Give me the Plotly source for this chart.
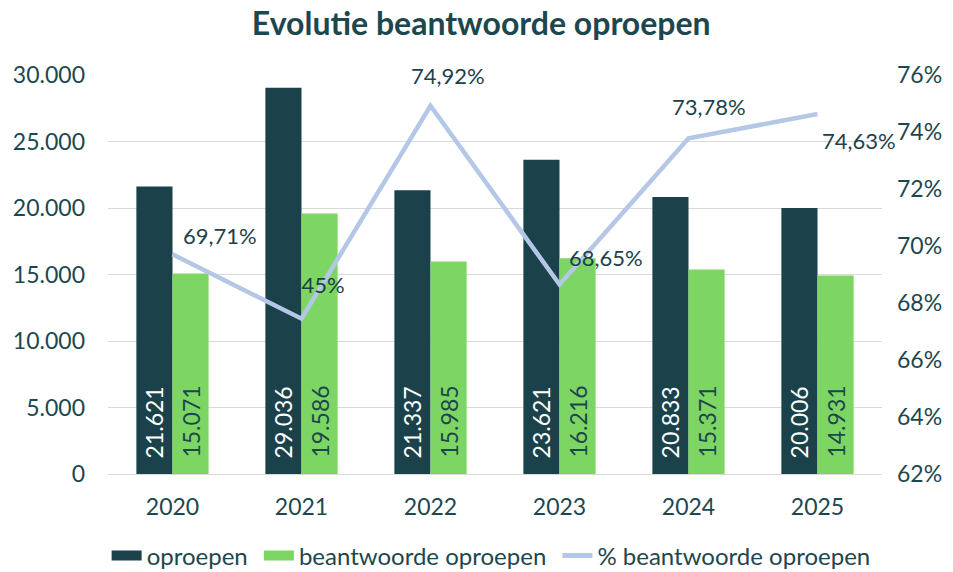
import plotly.graph_objects as go

# Data
years = ["2020", "2021", "2022", "2023", "2024", "2025"]
oproepen = [21621, 29036, 21337, 23621, 20833, 20006]
beantwoord = [15071, 19586, 15985, 16216, 15371, 14931]
pct_beantwoord = [69.71, 67.45, 74.92, 68.65, 73.78, 74.63]
pct_ticks = [62, 64, 66, 68, 70, 72, 74, 76]

# Label offsets (pixels) for the percentage labels
pct_xshift = [47, 6, 17, 46, 20, 41]
pct_yshift = [19, 34, 30, 27, 32, -26]

DARK = "#1b424a"
GREEN = "#7dd663"
LINE = "#b4c7e7"
TEXT = "#1d474e"
FONT = "Lato"
BARGAP = 0.44
BAR_W = (1 - BARGAP) / 2  # width of one bar in category units


def nl_int(v):
    return f"{v:,}".replace(",", ".")


def nl_pct(v):
    return f"{v:.2f}".replace(".", ",") + "%"


fig = go.Figure()

fig.add_trace(go.Bar(
    x=years, y=oproepen, name="oproepen", showlegend=False,
    marker=dict(color=DARK, line=dict(width=0)),
))
fig.add_trace(go.Bar(
    x=years, y=beantwoord, name="beantwoorde oproepen", showlegend=False,
    marker=dict(color=GREEN, line=dict(width=0)),
))
fig.add_trace(go.Scatter(
    x=years, y=pct_beantwoord, name="% beantwoorde oproepen",
    mode="lines", line=dict(color=LINE, width=4.5),
    yaxis="y2", showlegend=False,
))

# legend entries: thick line swatches for the two bar series and the line
for name, color, width in [("oproepen\u00a0", DARK, 13),
                           ("beantwoorde oproepen\u00a0", GREEN, 13),
                           ("% beantwoorde oproepen", LINE, 5)]:
    fig.add_trace(go.Scatter(
        x=[None], y=[None], name=name, mode="lines",
        line=dict(color=color, width=width), showlegend=True,
    ))

# vertical value labels at the foot of each bar
for values, offset, color in [(oproepen, -BAR_W / 2, "white"),
                              (beantwoord, BAR_W / 2, TEXT)]:
    for i, v in enumerate(values):
        fig.add_annotation(
            x=i + offset, y=0, xref="x", yref="y", text=nl_int(v),
            showarrow=False, textangle=-90, yanchor="bottom", xanchor="center",
            yshift=15, borderpad=0,
            font=dict(color=color, size=23, family=FONT),
        )

# percentage labels, placed by category index on the category axis
for i, (v, dx, dy) in enumerate(zip(pct_beantwoord, pct_xshift, pct_yshift)):
    fig.add_annotation(
        x=i, y=v, xref="x", yref="y2", text=nl_pct(v), showarrow=False,
        xshift=dx, yshift=dy,
        font=dict(color=DARK, size=22, family=FONT),
    )

fig.update_layout(
    width=953, height=572,
    margin=dict(l=108, r=71, t=75, b=98, autoexpand=False),
    paper_bgcolor="white", plot_bgcolor="white",
    separators=",.",
    font=dict(family=FONT, color=TEXT, size=23),
    title=dict(
        text="<b>Evolutie beantwoorde oproepen</b>",
        x=0.505, xanchor="center", y=0.958, yanchor="middle",
        font=dict(size=32, color=TEXT, family=FONT),
    ),
    barmode="group", bargap=BARGAP, bargroupgap=0,
    xaxis=dict(
        type="category", range=[-0.5, 5.5], autorange=False,
        showgrid=False, showline=True, linecolor="#d9d9d9", linewidth=1.3,
        tickfont=dict(size=23, color=TEXT), ticks="", ticklabelstandoff=12,
    ),
    yaxis=dict(
        range=[0, 30000], tickvals=[0, 5000, 10000, 15000, 20000, 25000, 30000],
        tickformat=",.0f", showgrid=True, gridcolor="#d9d9d9", gridwidth=1.3,
        zeroline=False, tickfont=dict(size=23, color=TEXT), ticks="",
        ticklabelstandoff=22,
    ),
    yaxis2=dict(
        range=[62, 76], tickvals=pct_ticks,
        ticktext=[f"{t}%" for t in pct_ticks],
        overlaying="y", side="right", showgrid=False,
        zeroline=False, tickfont=dict(size=23, color=TEXT), ticks="",
        ticklabelstandoff=14,
    ),
    legend=dict(
        orientation="h", x=0.495, xanchor="center",
        yref="container", y=0.028, yanchor="middle",
        font=dict(size=24, color=TEXT), traceorder="normal",
        itemwidth=30,
    ),
)

fig.write_html("out.html")
